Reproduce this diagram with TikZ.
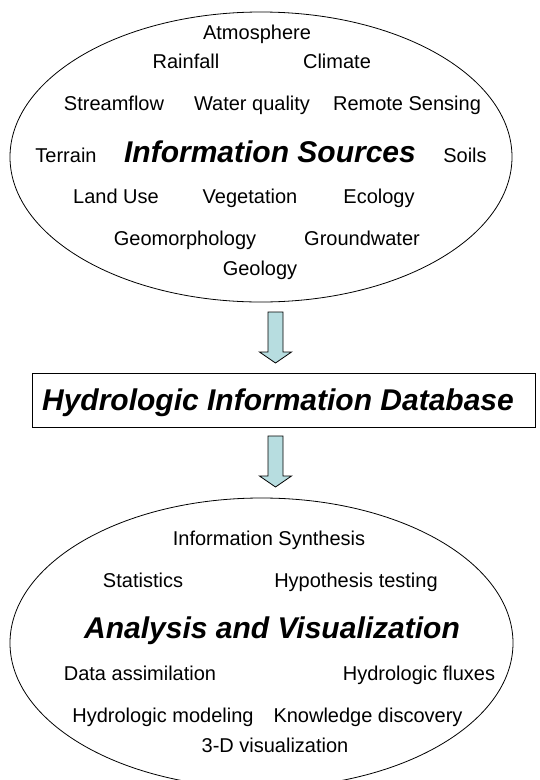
\documentclass[tikz,border=0pt]{standalone}
\usepackage{fontspec}
\setmainfont{Liberation Sans}
\usetikzlibrary{shapes.geometric,calc}
\definecolor{arrowfill}{HTML}{B7DDE0}
\tikzset{
  lbl/.style={anchor=base, inner sep=0pt, font=\fontsize{20}{24}\selectfont},
  ttl/.style={anchor=base, inner sep=0pt, font=\fontsize{30}{36}\selectfont\bfseries\itshape},
  oval/.style={ellipse, draw, line width=0.8pt, inner sep=0pt},
  dbbox/.style={rectangle, draw, line width=0.9pt, inner sep=0pt},
  blockarrow/.style={draw, line width=0.8pt, fill=arrowfill, line join=miter}
}
\newcommand{\blkarrow}[3]{% x, ytop, ytip
  \draw[blockarrow] (#1-7.5,#2) -- (#1+7.5,#2) -- (#1+7.5,#3-11) -- (#1+16,#3-11)
    -- (#1,#3) -- (#1-16,#3-11) -- (#1-7.5,#3-11) -- cycle;}
\begin{document}
\begin{tikzpicture}[x=1pt,y=-1pt]
\useasboundingbox (0,0) rectangle (540,780);
\fill[white] (0,0) rectangle (540,780);
\clip (0,0) rectangle (540,780);
% top ellipse
\node[oval, minimum width=502pt, minimum height=290pt] (top) at (261,157) {};
\node[lbl] (atm) at (257,39) {Atmosphere};
\node[lbl] (rain) at (186,68) {Rainfall};
\node[lbl] (clim) at (337,68) {Climate};
\node[lbl] (strm) at (114,110) {Streamflow};
\node[lbl] (wq) at (252,110) {Water quality};
\node[lbl] (rs) at (407,110) {Remote Sensing};
\node[lbl] (terr) at (66,162) {Terrain};
\node[ttl] (isrc) at (270,162) {Information Sources};
\node[lbl] (soil) at (465,162) {Soils};
\node[lbl] (lu) at (116,203) {Land Use};
\node[lbl] (veg) at (250,203) {Vegetation};
\node[lbl] (eco) at (379,203) {Ecology};
\node[lbl] (geom) at (185,245) {Geomorphology};
\node[lbl] (gw) at (362,245) {Groundwater};
\node[lbl] (geol) at (260,275) {Geology};
% database box
\node[dbbox, minimum width=503pt, minimum height=54pt] (db) at (283.5,400) {};
\node[ttl] (dbt) at (278,410) {Hydrologic Information Database};
% bottom ellipse
\node[oval, minimum width=503pt, minimum height=290pt] (bot) at (261.5,643) {};
\node[lbl] (syn) at (269,545) {Information Synthesis};
\node[lbl] (stat) at (143,587) {Statistics};
\node[lbl] (hyp) at (356,587) {Hypothesis testing};
\node[ttl] (anv) at (272,638) {Analysis and Visualization};
\node[lbl] (da) at (140,680) {Data assimilation};
\node[lbl] (hf) at (419,680) {Hydrologic fluxes};
\node[lbl] (hm) at (163,722) {Hydrologic modeling};
\node[lbl] (kd) at (368,722) {Knowledge discovery};
\node[lbl] (viz) at (275,752) {3-D visualization};
% block arrows
\blkarrow{275.5}{312}{363}
\blkarrow{275.5}{436}{487}
\end{tikzpicture}
\end{document}
